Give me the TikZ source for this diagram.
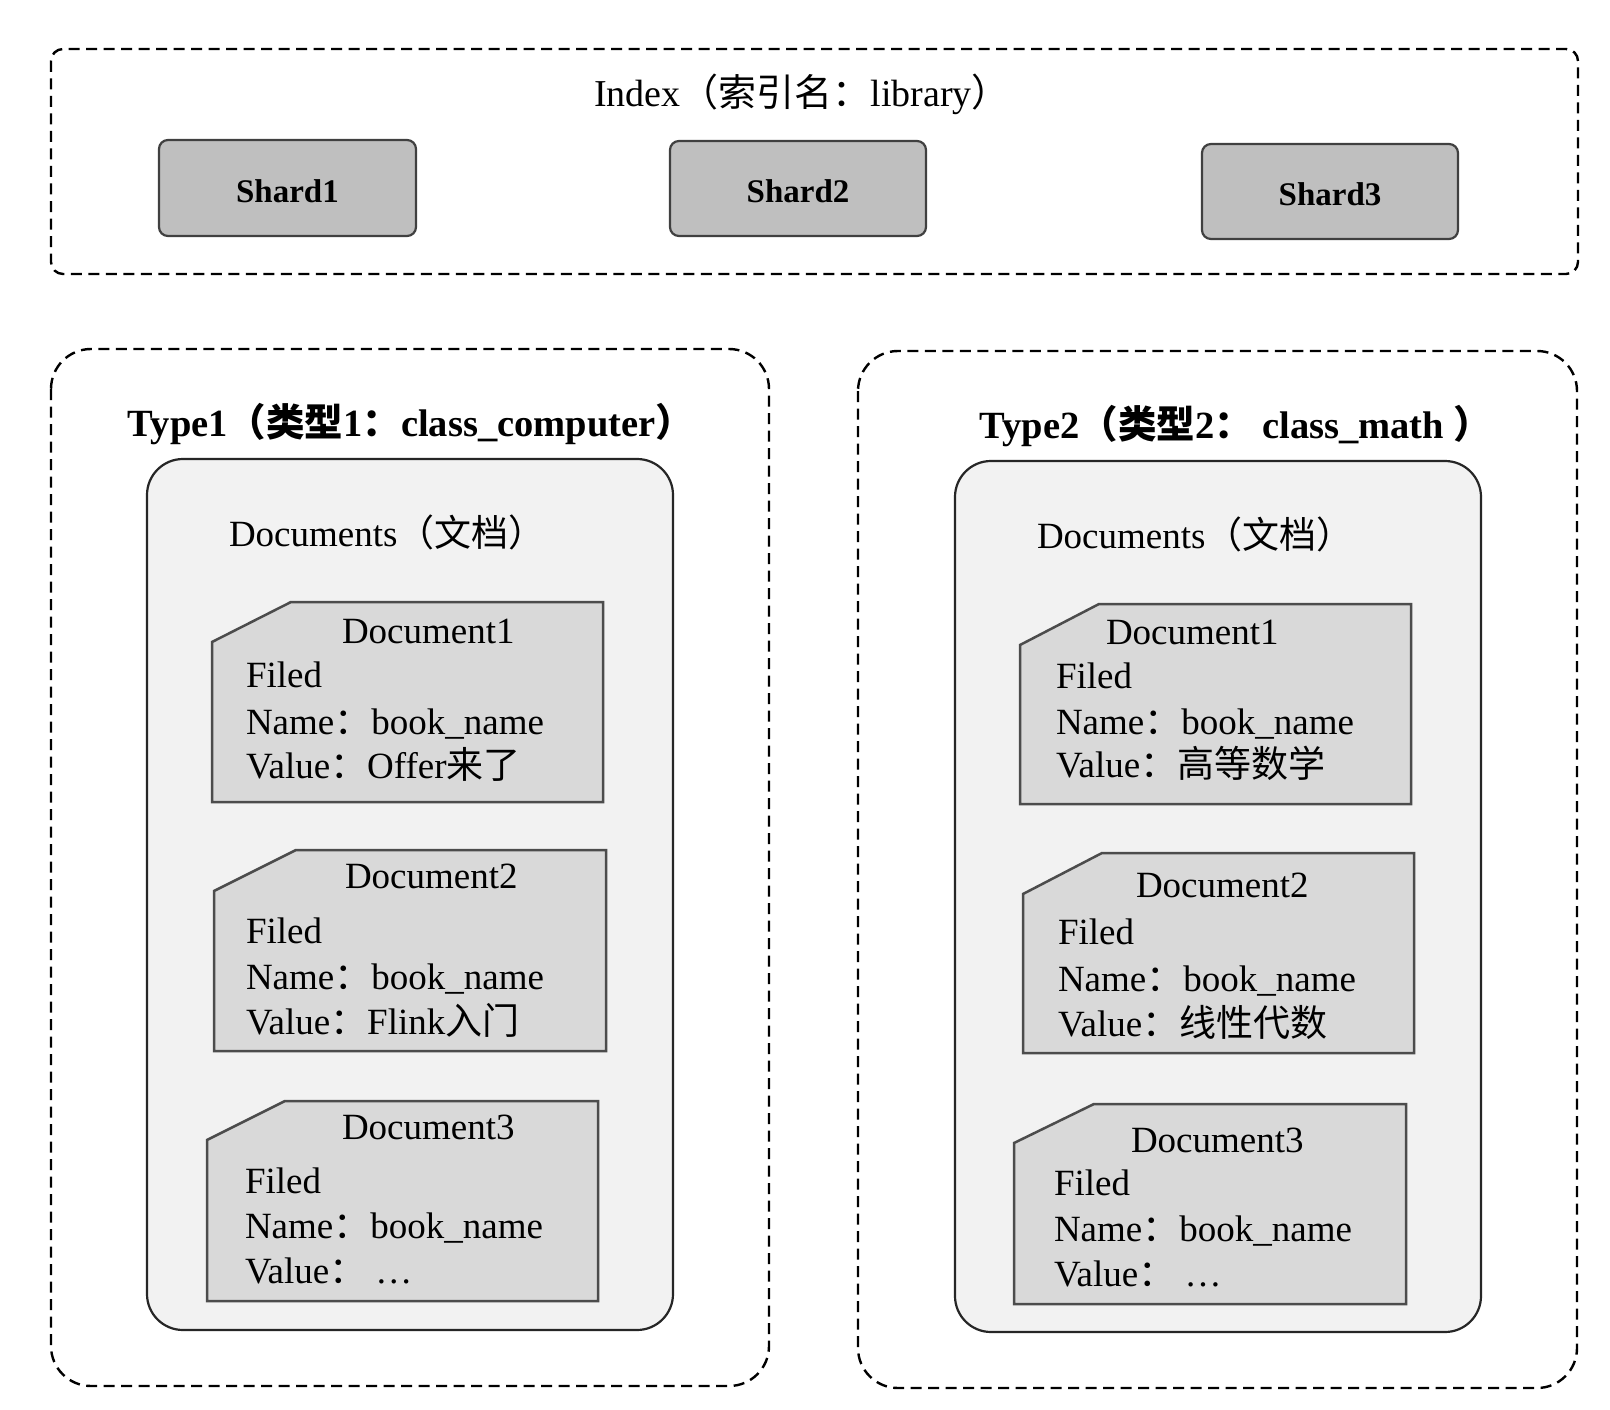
\documentclass[tikz,border=0pt]{standalone}
\usepackage{fontspec}
\setmainfont{Liberation Serif}
\newfontfamily\cjk{Noto Sans CJK SC}
\newcommand\cj[1]{{\cjk #1}}
\begin{document}
\begin{tikzpicture}[x=1pt,y=-1pt,
  every node/.style={inner sep=0pt, outer sep=0pt},
  txt/.style={font=\fontsize{37}{44}\selectfont, text=black},
  ttxt/.style={font=\fontsize{38}{44}\selectfont, text=black},
  btxt/.style={font=\fontsize{38.5}{44}\selectfont\bfseries, text=black},
  shardtxt/.style={font=\fontsize{33}{40}\selectfont\bfseries, text=black},
  dashbox/.style={draw=black, line width=2.4pt, dash pattern=on 11pt off 6.5pt},
  shardbox/.style={draw=black!75, fill=black!25, line width=2.2pt, rounded corners=9pt},
  docsbox/.style={draw=black!85, fill=black!5, line width=2.2pt, rounded corners=36pt},
  cardbox/.style={draw=black!70, fill=black!15, line width=2.5pt}
]
\useasboundingbox (0,0) rectangle (1610,1410);
\fill[white] (0,0) rectangle (1610,1410);

% Index container
\draw[dashbox, rounded corners=12pt] (51,49) rectangle (1578,274);
\node[ttxt, anchor=base] (idx) at (802,107) {Index\cj{（索引名：}library\cj{）}};

% Shards
\node[shardbox, minimum width=257pt, minimum height=96pt] (s1) at (287.5,188) {};
\node[shardtxt] (s1t) at (287.5,191) {Shard1};
\node[shardbox, minimum width=256pt, minimum height=95pt] (s2) at (798,188.5) {};
\node[shardtxt] (s2t) at (798,191.5) {Shard2};
\node[shardbox, minimum width=256pt, minimum height=95pt] (s3) at (1330,191.5) {};
\node[shardtxt] (s3t) at (1330,194.5) {Shard3};

% Type containers
\draw[dashbox, rounded corners=40pt] (51,349) rectangle (769,1386);
\draw[dashbox, rounded corners=40pt] (858,351) rectangle (1577,1388);
\node[btxt, anchor=base] (t1) at (411,436) {Type1\cj{（类型}1\cj{：}class\_computer\cj{）}};
\node[btxt, anchor=base] (t2) at (1236,438) {Type2\cj{（类型}2\cj{：} class\_math \cj{）}};

% Documents boxes
\draw[docsbox] (147,459) rectangle (673,1330);
\draw[docsbox] (955,461) rectangle (1481,1332);
\node[txt, anchor=base west] (dl) at (229,546) {Documents\cj{（文档）}};
\node[txt, anchor=base west] (dr) at (1037,548) {Documents\cj{（文档）}};

% Left cards
\draw[cardbox] (212,642) -- (291,602) -- (603,602) -- (603,802) -- (212,802) -- cycle;
\node[txt, anchor=base west] (l1a) at (342,643) {Document1};
\node[txt, anchor=base west] (l1b) at (246,687) {Filed};
\node[txt, anchor=base west] (l1c) at (246,734) {Name\cj{：}book\_name};
\node[txt, anchor=base west] (l1d) at (246,778) {Value\cj{：}Offer\cj{来了}};

\draw[cardbox] (214,891) -- (296,850) -- (606,850) -- (606,1051) -- (214,1051) -- cycle;
\node[txt, anchor=base west] (l2a) at (345,888) {Document2};
\node[txt, anchor=base west] (l2b) at (246,943) {Filed};
\node[txt, anchor=base west] (l2c) at (246,989) {Name\cj{：}book\_name};
\node[txt, anchor=base west] (l2d) at (246,1034) {Value\cj{：}Flink\cj{入门}};

\draw[cardbox] (207,1140) -- (285,1101) -- (598,1101) -- (598,1301) -- (207,1301) -- cycle;
\node[txt, anchor=base west] (l3a) at (342,1139) {Document3};
\node[txt, anchor=base west] (l3b) at (245,1193) {Filed};
\node[txt, anchor=base west] (l3c) at (245,1238) {Name\cj{：}book\_name};
\node[txt, anchor=base west] (l3d) at (245,1283) {Value\cj{：} …};

% Right cards
\draw[cardbox] (1020,645) -- (1099,604) -- (1411,604) -- (1411,804) -- (1020,804) -- cycle;
\node[txt, anchor=base west] (r1a) at (1106,644) {Document1};
\node[txt, anchor=base west] (r1b) at (1056,688) {Filed};
\node[txt, anchor=base west] (r1c) at (1056,734) {Name\cj{：}book\_name};
\node[txt, anchor=base west] (r1d) at (1056,777) {Value\cj{：高等数学}};

\draw[cardbox] (1023,894) -- (1102,853) -- (1414,853) -- (1414,1053) -- (1023,1053) -- cycle;
\node[txt, anchor=base west] (r2a) at (1136,897) {Document2};
\node[txt, anchor=base west] (r2b) at (1058,944) {Filed};
\node[txt, anchor=base west] (r2c) at (1058,991) {Name\cj{：}book\_name};
\node[txt, anchor=base west] (r2d) at (1058,1036) {Value\cj{：线性代数}};

\draw[cardbox] (1014,1143) -- (1094,1104) -- (1406,1104) -- (1406,1304) -- (1014,1304) -- cycle;
\node[txt, anchor=base west] (r3a) at (1131,1152) {Document3};
\node[txt, anchor=base west] (r3b) at (1054,1195) {Filed};
\node[txt, anchor=base west] (r3c) at (1054,1241) {Name\cj{：}book\_name};
\node[txt, anchor=base west] (r3d) at (1054,1286) {Value\cj{：} …};
\end{tikzpicture}
\end{document}
